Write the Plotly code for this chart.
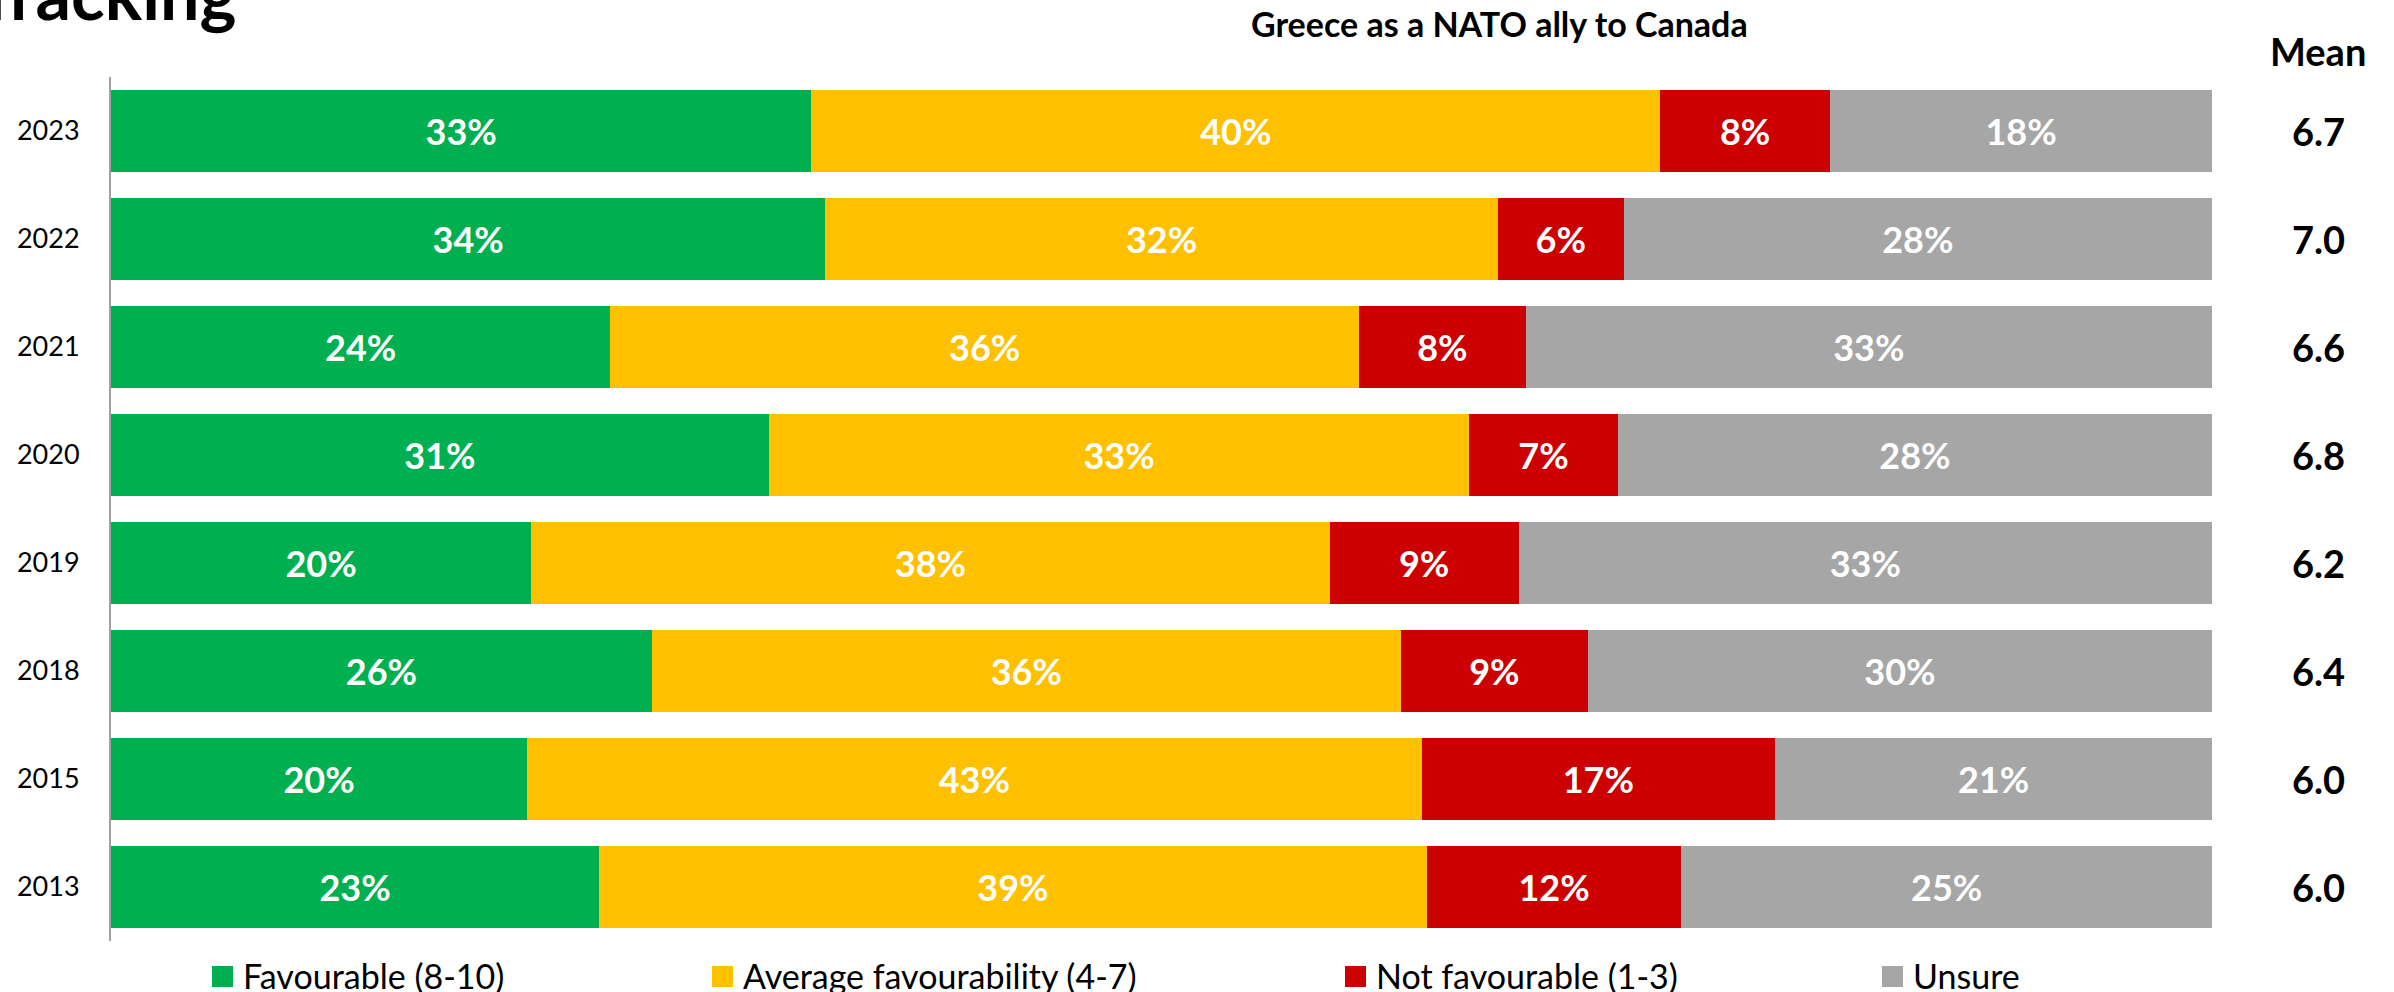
import plotly.graph_objects as go

# Survey tracking: Greece as a NATO ally to Canada
years = ["2023", "2022", "2021", "2020", "2019", "2018", "2015", "2013"]
favourable = [33, 34, 24, 31, 20, 26, 20, 23]
average = [40, 32, 36, 33, 38, 36, 43, 39]
not_favourable = [8, 6, 8, 7, 9, 9, 17, 12]
unsure = [18, 28, 33, 28, 33, 30, 21, 25]
means = ["6.7", "7.0", "6.6", "6.8", "6.2", "6.4", "6.0", "6.0"]

series_names = ["Favourable (8-10)", "Average favourability (4-7)",
                "Not favourable (1-3)", "Unsure"]
series_values = [favourable, average, not_favourable, unsure]
colors = ["#00B050", "#FFC000", "#CC0000", "#A6A6A6"]

FONT = "Lato"
FIG_W, FIG_H = 2394, 992
ML, MR, MT, MB = 111, 182, 77, 51
PW = FIG_W - ML - MR
PH = FIG_H - MT - MB


def px_x(p):
    return (p - ML) / PW


def px_y(p):
    return (FIG_H - MB - p) / PH


fig = go.Figure()
for name, vals, col in zip(series_names, series_values, colors):
    fig.add_trace(go.Bar(
        y=years, x=vals, orientation="h", name=name,
        marker=dict(color=col, line=dict(width=0)),
        text=[f"{v}%" for v in vals],
        textposition="inside", insidetextanchor="middle",
        constraintext="none",
        textfont=dict(family=FONT, size=36, color="white", weight="bold"),
        showlegend=False, hoverinfo="skip",
    ))

annotations = []
# Mean column
annotations.append(dict(
    text="<b>Mean</b>", xref="paper", yref="paper",
    x=px_x(2318), y=px_y(51), xanchor="center", yanchor="middle",
    showarrow=False, font=dict(family=FONT, size=38, color="black")))
for idx, m in enumerate(means):
    annotations.append(dict(
        text=f"<b>{m}</b>", xref="paper", yref="y",
        x=px_x(2318), y=idx, xanchor="center", yanchor="middle",
        showarrow=False, font=dict(family=FONT, size=38, color="black")))

# Chart heading and page title
annotations.append(dict(
    text="<b>Greece as a NATO ally to Canada</b>", xref="paper", yref="paper",
    x=px_x(1499), y=px_y(23), xanchor="center", yanchor="middle",
    showarrow=False, font=dict(family=FONT, size=34, color="black")))
annotations.append(dict(
    text="<b>Tracking</b>", xref="paper", yref="paper",
    x=px_x(-27), y=px_y(-7), xanchor="left", yanchor="middle",
    showarrow=False, font=dict(family=FONT, size=70, color="black")))

# Legend row
shapes = []
legend_x = [212, 712, 1345, 1882]
for lx, name, col in zip(legend_x, series_names, colors):
    shapes.append(dict(
        type="rect", xref="paper", yref="paper",
        x0=px_x(lx), x1=px_x(lx + 21), y0=px_y(987), y1=px_y(966),
        fillcolor=col, line=dict(width=0)))
    annotations.append(dict(
        text=name, xref="paper", yref="paper",
        x=px_x(lx + 29), y=px_y(975), xanchor="left", yanchor="middle",
        showarrow=False, font=dict(family=FONT, size=34, color="black")))

fig.update_layout(
    width=FIG_W, height=FIG_H,
    barmode="stack", barnorm="percent", bargap=0.235,
    margin=dict(l=ML, r=MR, t=MT, b=MB, pad=0),
    paper_bgcolor="white", plot_bgcolor="white",
    xaxis=dict(range=[0, 100], visible=False, fixedrange=True),
    yaxis=dict(
        type="category", categoryorder="array", categoryarray=years,
        range=[len(years) - 0.5, -0.5], autorange=False,
        showline=True, linecolor="#A0A0A0", linewidth=2,
        showgrid=False, zeroline=False, ticks="",
        ticklabelstandoff=24,
        tickfont=dict(family=FONT, size=27, color="black"),
    ),
    annotations=annotations, shapes=shapes,
    showlegend=False,
)

fig.write_html("out.html")
